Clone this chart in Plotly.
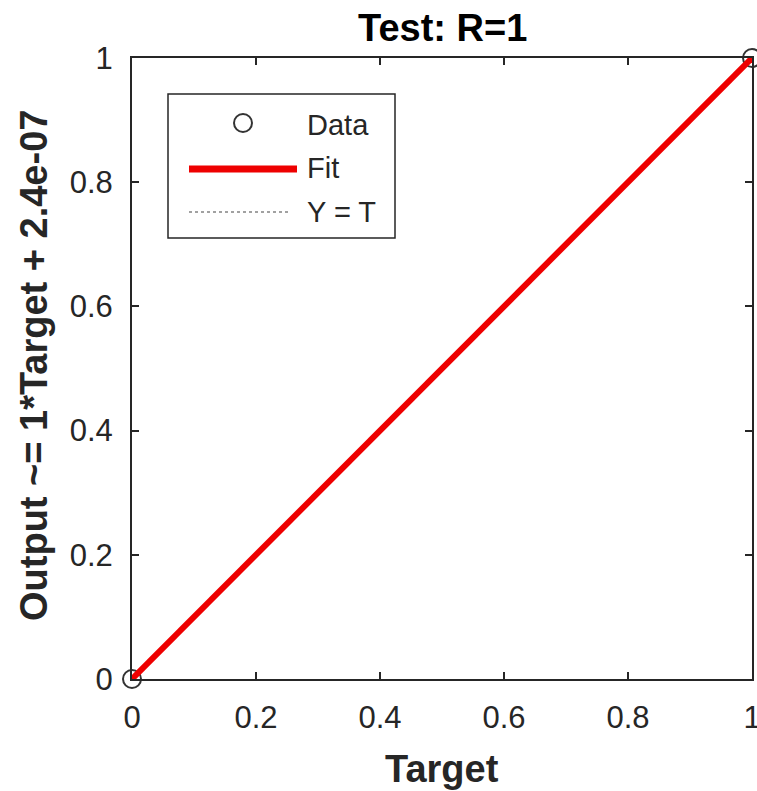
import plotly.graph_objects as go

# Data
target = [0, 1]
output = [0, 1]
fit_x = [0, 1]
fit_y = [0, 1]
yt_x = [0, 1]
yt_y = [0, 1]
tick_vals = [0, 0.2, 0.4, 0.6, 0.8, 1]
tick_text = ["0", "0.2", "0.4", "0.6", "0.8", "1"]
legend_labels = ["Data", "Fit", "Y = T"]

FONT = "Liberation Sans, Arial, sans-serif"
DARK = "#262626"

W, H = 757, 791
L, R, T, B = 132, 5, 58, 112
pw, ph = W - L - R, H - T - B

def px(x):
    return (x - L) / pw

def py(y):
    return (H - B - y) / ph

fig = go.Figure()
fig.add_trace(go.Scatter(x=yt_x, y=yt_y, mode="lines", name=legend_labels[2],
                         line=dict(color="black", width=1.2, dash="dot"), showlegend=False))
fig.add_trace(go.Scatter(x=target, y=output, mode="markers", name=legend_labels[0],
                         marker=dict(symbol="circle-open", size=18, color="#333333",
                                     line=dict(width=2, color="#333333")),
                         cliponaxis=False, showlegend=False))
fig.add_trace(go.Scatter(x=fit_x, y=fit_y, mode="lines", name=legend_labels[1],
                         line=dict(color="#ee0000", width=6), showlegend=False))

axis_common = dict(
    range=[0, 1], tickvals=tick_vals, ticktext=tick_text,
    ticks="inside", ticklen=7, tickwidth=1.5, tickcolor=DARK,
    showline=True, linecolor=DARK, linewidth=2, mirror="allticks",
    showgrid=False, zeroline=False, ticklabeloverflow="allow", automargin=False,
    tickfont=dict(family=FONT, size=31, color=DARK),
)
fig.update_xaxes(**axis_common, ticklabelstandoff=10)
fig.update_yaxes(**axis_common, ticklabelstandoff=11)

# Legend drawn manually (box, samples, labels)
shapes = [
    dict(type="rect", xref="paper", yref="paper", x0=px(168), x1=px(395), y0=py(238), y1=py(94),
         line=dict(color=DARK, width=1.5), fillcolor="white", layer="above"),
    dict(type="circle", xref="paper", yref="paper", xsizemode="pixel", ysizemode="pixel",
         xanchor=px(243), yanchor=py(123), x0=-9, x1=9, y0=-9, y1=9,
         line=dict(color="#333333", width=2), layer="above"),
    dict(type="line", xref="paper", yref="paper", x0=px(189), x1=px(297), y0=py(169), y1=py(169),
         line=dict(color="#ee0000", width=7), layer="above"),
    dict(type="line", xref="paper", yref="paper", x0=px(189), x1=px(290), y0=py(212), y1=py(212),
         line=dict(color="#444444", width=1.2, dash="dot"), layer="above"),
]
annotations = []
for lab, yy in zip(legend_labels, [125, 168, 212]):
    annotations.append(dict(text=lab, xref="paper", yref="paper", x=px(305), y=py(yy),
                            xanchor="left", yanchor="middle", showarrow=False,
                            font=dict(family=FONT, size=29, color=DARK)))

annotations.append(dict(text="<b>Test: R=1</b>", xref="paper", yref="paper", x=0.5, y=py(28),
                        xanchor="center", yanchor="middle", showarrow=False,
                        font=dict(family=FONT, size=38, color="black")))
annotations.append(dict(text="<b>Target</b>", xref="paper", yref="paper", x=0.5, y=py(769),
                        xanchor="center", yanchor="middle", showarrow=False,
                        font=dict(family=FONT, size=38, color=DARK)))
annotations.append(dict(text="<b>Output ~= 1*Target + 2.4e-07</b>", xref="paper", yref="paper",
                        x=px(34), y=py(366), xanchor="center", yanchor="middle", textangle=-90,
                        showarrow=False, font=dict(family=FONT, size=38, color=DARK)))

fig.update_layout(
    width=W, height=H, margin=dict(l=L, r=R, t=T, b=B, autoexpand=False),
    paper_bgcolor="white", plot_bgcolor="white",
    shapes=shapes, annotations=annotations, showlegend=False,
)
post = (
    "document.documentElement.style.overflow='hidden';"
    "document.body.style.margin='0';document.body.style.overflow='hidden';"
)
fig.write_html("out.html", config={"displayModeBar": False}, post_script=post)
